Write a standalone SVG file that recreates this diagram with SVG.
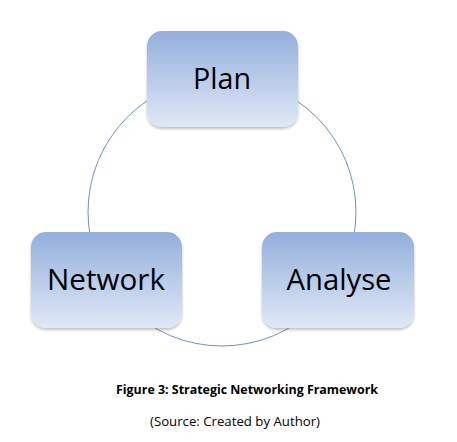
<svg xmlns="http://www.w3.org/2000/svg" width="457" height="442" viewBox="0 0 457 442">
<style>
.box{fill:url(#g);stroke:none;filter:url(#sh)}
.lbl{font-family:"Open Sans","Liberation Sans",sans-serif;font-size:29px;fill:#000;text-anchor:middle}
.cap{font-family:"Open Sans","Liberation Sans",sans-serif;font-size:12px;fill:#000;text-anchor:middle}
.conn{fill:none;stroke:#6f93c4;stroke-width:1}
</style>
<defs>
<linearGradient id="g" x1="0" y1="0" x2="0" y2="1">
<stop offset="0" stop-color="#93afdc"/>
<stop offset="1" stop-color="#e1e8f6"/>
</linearGradient>
<filter id="sh" x="-10%" y="-10%" width="125%" height="130%">
<feGaussianBlur in="SourceAlpha" stdDeviation="1.5"/>
<feOffset dx="0" dy="1.5"/>
<feComponentTransfer><feFuncA type="linear" slope="0.25"/></feComponentTransfer>
<feMerge><feMergeNode/><feMergeNode in="SourceGraphic"/></feMerge>
</filter>
</defs>
<rect width="457" height="442" fill="#fff"/>
<g id="connectors">
<circle class="conn" cx="222" cy="212" r="134"/>
</g>
<g id="plan">
<rect class="box" x="147" y="31" width="151" height="96" rx="15"/>
<text class="lbl" x="222" y="89" textLength="58" lengthAdjust="spacingAndGlyphs">Plan</text>
</g>
<g id="network">
<rect class="box" x="31" y="232" width="151" height="96" rx="15"/>
<text class="lbl" x="106" y="290" textLength="118" lengthAdjust="spacingAndGlyphs">Network</text>
</g>
<g id="analyse">
<rect class="box" x="262" y="232" width="152" height="96" rx="15"/>
<text class="lbl" x="339" y="290" textLength="105" lengthAdjust="spacingAndGlyphs">Analyse</text>
</g>
<text class="cap" x="247" y="394" font-weight="bold" textLength="262" lengthAdjust="spacingAndGlyphs">Figure 3: Strategic Networking Framework</text>
<text class="cap" x="235" y="426" textLength="170" lengthAdjust="spacingAndGlyphs">(Source: Created by Author)</text>
</svg>
